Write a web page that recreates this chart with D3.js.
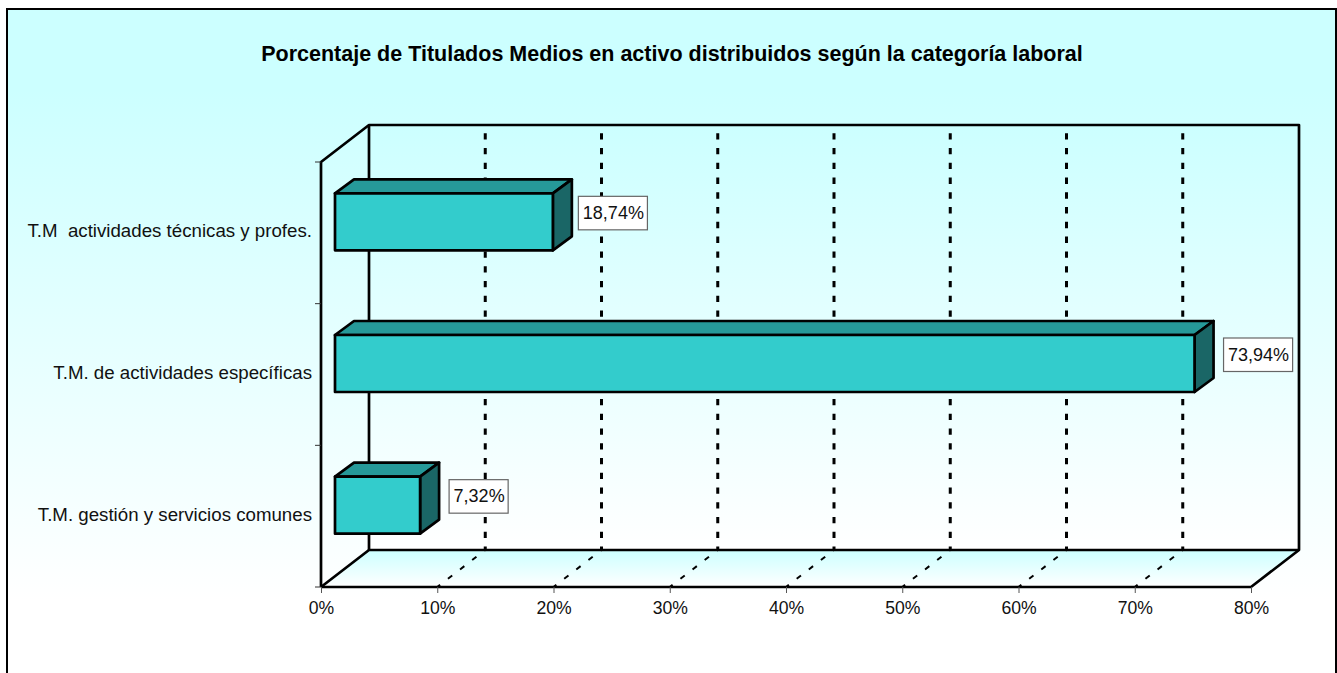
<!DOCTYPE html>
<html>
<head>
<meta charset="utf-8">
<script src="https://cdn.jsdelivr.net/npm/d3@7"></script>
<style>
  html, body { margin: 0; padding: 0; background: #fff; }
  svg { display: block; }
  text { font-family: "Liberation Sans", Arial, sans-serif; fill: #111; white-space: pre; }
</style>
</head>
<body>
<div id="chart"></div>
<script>
// values
const categories = ["T.M  actividades técnicas y profes.", "T.M. de actividades específicas", "T.M. gestión y servicios comunes"];
const percentages = [18.74, 73.94, 7.32];
const valueLabels = ["18,74%", "73,94%", "7,32%"];
const xTicks = [0, 10, 20, 30, 40, 50, 60, 70, 80];
const chartTitle = "Porcentaje de Titulados Medios en activo distribuidos según la categoría laboral";

const width = 1337, height = 673;

// front plane of the 3D box
const x = d3.scaleLinear().domain([0, 80]).range([321, 1251]);
const y = d3.scaleBand().domain(categories).range([162, 587]).paddingInner(0).paddingOuter(0);

// depth of the wall and of the bars
const wallDx = 48, wallDy = -37;
const barOffX = 14, barOffY = -11;
const barDx = 19, barDy = -14;
const barH = 57;
const strokeW = 2.7;

const svg = d3.select("#chart").append("svg").attr("width", width).attr("height", height);

const defs = svg.append("defs");
function vGrad(id, y1, y2) {
    const g = defs.append("linearGradient").attr("id", id)
        .attr("gradientUnits", "userSpaceOnUse")
        .attr("x1", 0).attr("x2", 0).attr("y1", y1).attr("y2", y2);
    g.append("stop").attr("offset", 0).attr("stop-color", "#ccffff");
    g.append("stop").attr("offset", 1).attr("stop-color", "#ffffff");
}
vGrad("bgGrad", 90, 600);
vGrad("wallGrad", 125, 550);
vGrad("floorGrad", 550, 587);

// outer frame
svg.append("rect").attr("x", 7).attr("y", 9).attr("width", 1329).attr("height", 680)
    .attr("fill", "url(#bgGrad)").attr("stroke", "#000").attr("stroke-width", 2);

svg.append("text").attr("x", 672).attr("y", 61).attr("text-anchor", "middle")
    .attr("font-size", 21.5).attr("font-weight", "bold").style("fill", "#000").text(chartTitle);

const x0 = x(0), x1 = x(80), yTop = y.range()[0], yBot = y.range()[1];
const line = d3.line();

// back wall and floor
svg.append("rect").attr("x", x0 + wallDx).attr("y", yTop + wallDy)
    .attr("width", x1 - x0).attr("height", yBot - yTop).attr("fill", "url(#wallGrad)");
svg.append("path")
    .attr("d", line([[x0, yBot], [x1, yBot], [x1 + wallDx, yBot + wallDy], [x0 + wallDx, yBot + wallDy]]) + "Z")
    .attr("fill", "url(#floorGrad)");

// gridlines: back wall
svg.append("g").selectAll("line").data(xTicks.slice(1, -1)).join("line")
    .attr("x1", d => x(d) + wallDx).attr("x2", d => x(d) + wallDx)
    .attr("y1", yTop + wallDy).attr("y2", yBot + wallDy)
    .attr("stroke", "#000").attr("stroke-width", 3)
    .attr("stroke-dasharray", "6.3 8.46").attr("stroke-dashoffset", -8.3);

// gridlines: floor
svg.append("g").selectAll("line").data(xTicks.slice(1, -1)).join("line")
    .attr("x1", d => x(d)).attr("x2", d => x(d) + wallDx)
    .attr("y1", yBot).attr("y2", yBot + wallDy)
    .attr("stroke", "#000").attr("stroke-width", 2)
    .attr("stroke-dasharray", "5.4 9.9").attr("stroke-dashoffset", 1.8);

// box outline
const outline = [
    [[x0, yBot], [x0, yTop], [x0 + wallDx, yTop + wallDy], [x1 + wallDx, yTop + wallDy], [x1 + wallDx, yBot + wallDy], [x1, yBot], [x0, yBot]],
    [[x0, yBot], [x0 + wallDx, yBot + wallDy], [x1 + wallDx, yBot + wallDy]],
    [[x0 + wallDx, yTop + wallDy], [x0 + wallDx, yBot + wallDy]]
];
svg.append("g").selectAll("path").data(outline).join("path")
    .attr("d", d => line(d)).attr("fill", "none").attr("stroke", "#000")
    .attr("stroke-width", strokeW).attr("stroke-linejoin", "round");

// axes
const xAxis = d3.axisBottom(x).tickValues(xTicks).tickFormat(d => d + "%").tickSize(6).tickPadding(9);
const gx = svg.append("g").attr("transform", `translate(0,${yBot})`).call(xAxis);
gx.select(".domain").remove();
gx.selectAll("line").attr("stroke", "#555").attr("stroke-width", 1);
gx.selectAll("text").attr("font-size", 17.6).attr("font-family", "Liberation Sans");

const yTickPos = d3.range(4).map(i => yTop + i * y.step());
svg.append("g").selectAll("line").data(yTickPos).join("line")
    .attr("x1", x0 - 6).attr("x2", x0).attr("y1", d => d).attr("y2", d => d)
    .attr("stroke", "#333").attr("stroke-width", 1);

svg.append("g").selectAll("text").data(categories).join("text")
    .attr("x", 312).attr("y", d => y(d) + y.bandwidth() / 2 - 2)
    .attr("dy", "0.35em").attr("text-anchor", "end").attr("font-size", 18.7)
    .text(d => d);

// bars
const bars = svg.append("g").selectAll("g").data(categories).join("g");
const bx = i => x0 + barOffX;
const bxe = i => x(percentages[i]) + barOffX;
const bt = d => y(d) + y.bandwidth() / 2 + barOffY - barH / 2;

bars.append("path") // top face
    .attr("d", (d, i) => line([[bx(i), bt(d)], [bxe(i), bt(d)], [bxe(i) + barDx, bt(d) + barDy], [bx(i) + barDx, bt(d) + barDy]]) + "Z")
    .attr("fill", "#269999");
bars.append("path") // side face
    .attr("d", (d, i) => line([[bxe(i), bt(d)], [bxe(i) + barDx, bt(d) + barDy], [bxe(i) + barDx, bt(d) + barDy + barH], [bxe(i), bt(d) + barH]]) + "Z")
    .attr("fill", "#1a6666");
bars.append("rect") // front face
    .attr("x", (d, i) => bx(i)).attr("y", bt)
    .attr("width", (d, i) => bxe(i) - bx(i)).attr("height", barH)
    .attr("fill", "#33cccc");
bars.selectAll("path,rect").attr("stroke", "#000").attr("stroke-width", strokeW).attr("stroke-linejoin", "round");

// value labels, boxes sit a little further out on the two longer-gap bars
const labelGap = [6.5, 10, 10];
const labels = svg.append("g").selectAll("g").data(categories).join("g")
    .attr("transform", (d, i) => `translate(${bxe(i) + barDx + labelGap[i]},${bt(d) + 3})`);
labels.append("text").attr("x", 4.5).attr("y", 16.5).attr("dy", "0.35em")
    .attr("font-size", 18).text((d, i) => valueLabels[i]);
labels.insert("rect", "text")
    .attr("x", 0).attr("y", 0).attr("height", 33.5)
    .attr("width", function () { return this.parentNode.querySelector("text").getComputedTextLength() + 8; })
    .attr("fill", "#fff").attr("stroke", "#666").attr("stroke-width", 1.2);
</script>
</body>
</html>
